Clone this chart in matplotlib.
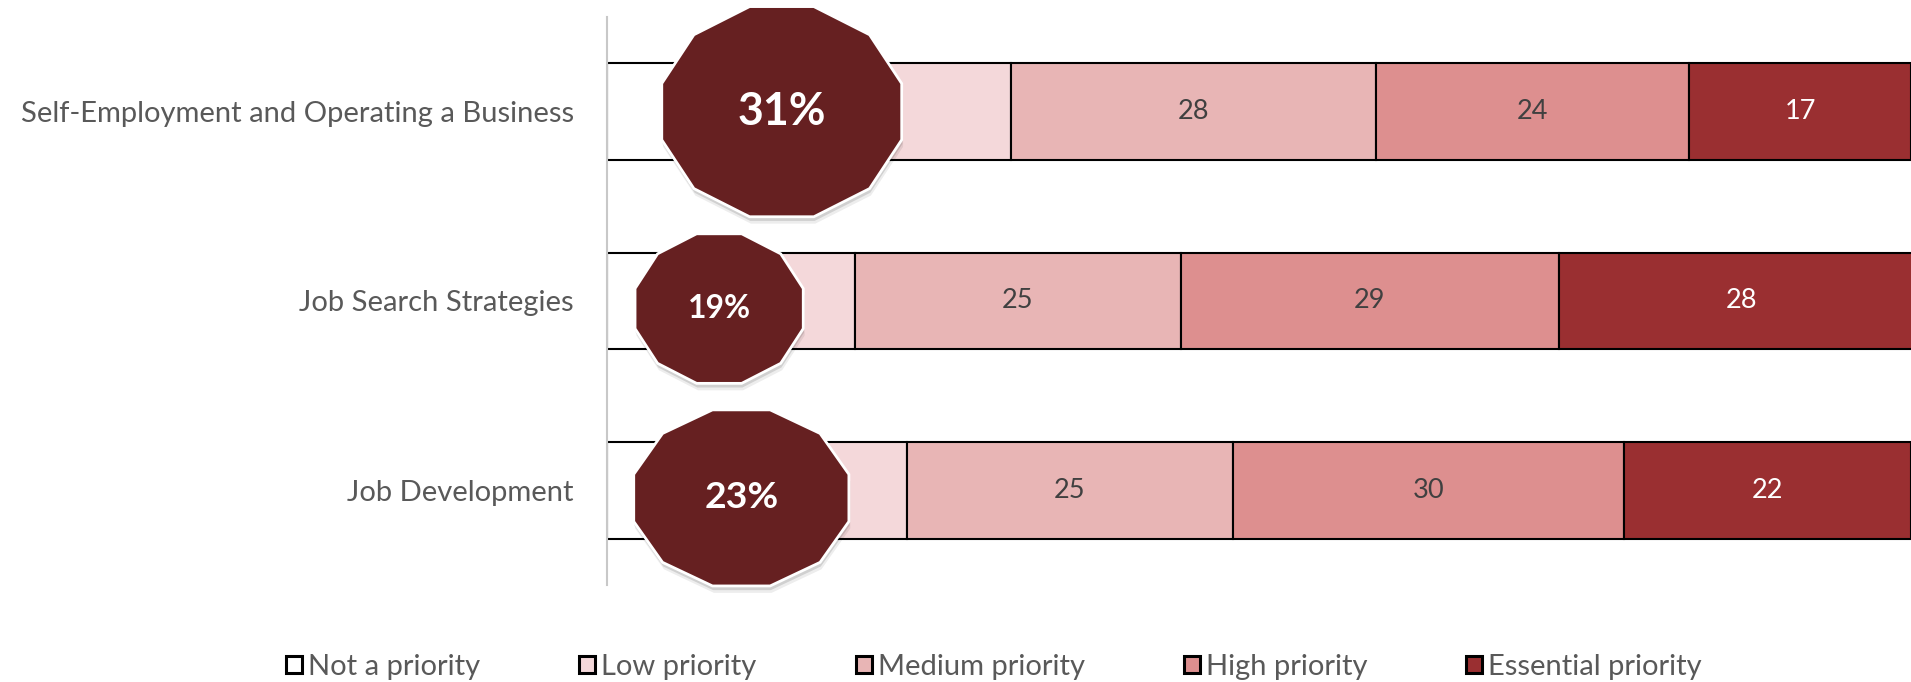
import matplotlib
matplotlib.use("Agg")
import matplotlib.pyplot as plt
import matplotlib.patheffects as pe
from matplotlib.patches import Polygon
import numpy as np

plt.rcParams['font.family'] = ['Lato', 'DejaVu Sans']

categories = ['Self-Employment and Operating a Business', 'Job Search Strategies', 'Job Development']
levels = ['Not a priority', 'Low priority', 'Medium priority', 'High priority', 'Essential priority']
not_priority = [11, 6, 8]
low_priority = [20, 13, 15]
medium_priority = [28, 25, 25]
high_priority = [24, 29, 30]
essential_priority = [17, 28, 22]

colors = ['#FFFFFF', '#F4D8DA', '#E8B5B5', '#DD8F8F', '#9A2F31']
label_colors = [None, None, '#404040', '#404040', '#FFFFFF']

# badge geometry: centre x (data), width (data), height (category units), y shift
badge_x = [13.4, 8.6, 10.3]
badge_w = [18.4, 12.9, 16.5]
badge_h = [1.11, 0.79, 0.93]
badge_dy = [0.0, 0.04, 0.04]

fig = plt.figure(figsize=(19.11, 6.82), dpi=100)
ax = fig.add_axes([607 / 1911, 97 / 682, 1 - 607 / 1911, 568 / 682])

series = [not_priority, low_priority, medium_priority, high_priority, essential_priority]
y = np.arange(len(categories))
left = np.zeros(len(categories))
handles = []
for vals, lvl, col, lc in zip(series, levels, colors, label_colors):
    vals = np.array(vals, dtype=float)
    bars = ax.barh(y, vals, left=left, height=0.51, color=col, edgecolor='black',
                   linewidth=1.5, label=lvl, zorder=2)
    handles.append(bars)
    if lc is not None:
        for xi, yi, v in zip(left + vals / 2, y, vals):
            ax.text(xi, yi, f'{v:g}', ha='center', va='center', color=lc,
                    fontsize=19.5, zorder=3)
    left += vals

ax.set_xlim(0, 100)
ax.set_ylim(len(categories) - 0.5, -0.5)
ax.set_yticks(y)
ax.set_yticklabels(categories, fontsize=21, color='#595959')
ax.tick_params(axis='y', length=0, pad=24)
ax.set_xticks([])
for s in ['top', 'right', 'bottom']:
    ax.spines[s].set_visible(False)
ax.spines['left'].set_color('#C8C8C8')
ax.spines['left'].set_linewidth(1.5)

# twelve-sided badges with the combined not/low share
ang = np.deg2rad(15 + 30 * np.arange(12))
shadow = [pe.SimplePatchShadow(offset=(1, -5), shadow_rgbFace='#000000', alpha=0.07),
          pe.SimplePatchShadow(offset=(0.5, -3), shadow_rgbFace='#000000', alpha=0.12),
          pe.Normal()]
for i in range(len(categories)):
    share = not_priority[i] + low_priority[i]
    cx, cy = badge_x[i], y[i] + badge_dy[i]
    rx = badge_w[i] / 2 / np.cos(np.deg2rad(15))
    ry = badge_h[i] / 2 / np.cos(np.deg2rad(15))
    pts = np.column_stack([cx + rx * np.cos(ang), cy + ry * np.sin(ang)])
    poly = Polygon(pts, closed=True, facecolor='#662021', edgecolor='white',
                   linewidth=2, zorder=5, clip_on=False)
    poly.set_path_effects(shadow)
    ax.add_patch(poly)
    ax.text(cx, cy, f'{share}%', ha='center', va='center', color='white',
            fontweight='bold', fontsize=badge_h[i] * 29, zorder=6)

leg = fig.legend(handles=handles, labels=levels, loc='center', bbox_to_anchor=(994 / 1911, 1 - 667 / 682),
                 ncol=5, frameon=False, fontsize=21, labelcolor='#595959',
                 handlelength=0.55, handleheight=0.55, handletextpad=0.2, columnspacing=3.4)
for h in leg.legend_handles:
    h.set_linewidth(2.2)

fig.savefig('out.png', dpi=100)
